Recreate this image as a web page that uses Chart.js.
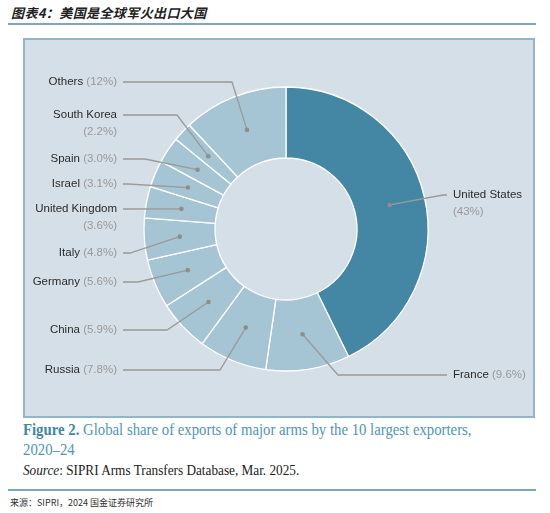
<!DOCTYPE html>
<html>
<head>
<meta charset="utf-8">
<script src="https://cdn.jsdelivr.net/npm/chart.js@4.4.1/dist/chart.umd.min.js"></script>
<style>
  html,body{margin:0;padding:0;background:#fff;width:550px;height:513px;overflow:hidden;}
  #title{position:absolute;left:11px;top:3px;font-family:"Noto Sans CJK SC";font-weight:bold;font-style:italic;font-size:13px;color:#222;letter-spacing:0.4px;}
  .rule{position:absolute;left:8px;width:528px;height:2px;background:#7ea5bd;}
  #panel{position:absolute;left:23px;top:38px;width:508px;height:376px;background:#d5dfe7;border:2px solid #92b5ca;}
  #cap{position:absolute;left:23px;top:420px;white-space:nowrap;font-family:"Liberation Serif";font-size:16.5px;line-height:20px;color:#4f95b8;transform:scaleX(0.895);transform-origin:0 0;}
  #cap b{color:#3f86aa;}
  #src{position:absolute;left:23px;top:463px;white-space:nowrap;font-family:"Liberation Serif";font-size:14px;color:#222;transform:scaleX(0.945);transform-origin:0 0;}
  #foot{position:absolute;left:10px;top:496px;font-family:"Noto Sans CJK SC";font-size:9px;color:#333;}
  #c{position:absolute;left:0;top:0;pointer-events:none;}
</style>
</head>
<body>
<div id="title">图表4：美国是全球军火出口大国</div>
<div class="rule" style="top:23px"></div>
<div id="panel"></div>
<div id="cap"><b>Figure 2.</b> Global share of exports of major arms by the 10 largest exporters,<br>2020–24</div>
<div id="src"><i>Source</i>: SIPRI Arms Transfers Database, Mar. 2025.</div>
<div class="rule" style="top:489px"></div>
<div id="foot">来源：SIPRI，2024 国金证券研究所</div>
<canvas id="c" width="550" height="513"></canvas>
<script>
const countries = ['United States','France','Russia','China','Germany','Italy','United Kingdom','Israel','Spain','South Korea','Others'];
const shares = [43, 9.6, 7.8, 5.9, 5.6, 4.8, 3.6, 3.1, 3.0, 2.2, 12];
const shareLabels = ['43%','9.6%','7.8%','5.9%','5.6%','4.8%','3.6%','3.1%','3.0%','2.2%','12%'];

// label layout (page pixels), separate from data
const labelLayout = [
  {side:'right', y:195, elbowX:443, twoLine:true},
  {side:'right', y:375, elbowX:338, twoLine:false},
  {side:'left',  y:370, elbowX:220, twoLine:false},
  {side:'left',  y:330, elbowX:167, twoLine:false},
  {side:'left',  y:282, elbowX:138, twoLine:false},
  {side:'left',  y:253, elbowX:130, twoLine:false},
  {side:'left',  y:209, elbowX:128, twoLine:true},
  {side:'left',  y:184, elbowX:128, twoLine:false},
  {side:'left',  y:159, elbowX:145, twoLine:false},
  {side:'left',  y:115, elbowX:177, twoLine:true},
  {side:'left',  y:82,  elbowX:232, twoLine:false}
];

const usColor = '#4387a4';
const lightColor = '#a5c4d4';

const leaderPlugin = {
  id: 'leaders',
  afterDatasetsDraw(chart) {
    const ctx = chart.ctx;
    const arcs = chart.getDatasetMeta(0).data;
    ctx.save();
    arcs.forEach((arc, i) => {
      const L = labelLayout[i];
      const p = arc.getCenterPoint();
      const endX = L.side === 'left' ? 123 : 447;
      ctx.strokeStyle = '#9b9b98';
      ctx.lineWidth = 1.3;
      ctx.beginPath();
      ctx.moveTo(p.x, p.y);
      ctx.lineTo(L.elbowX, L.y);
      ctx.lineTo(endX, L.y);
      ctx.stroke();
      ctx.fillStyle = '#8e8e8a';
      ctx.beginPath();
      ctx.arc(p.x, p.y, 2.3, 0, Math.PI * 2);
      ctx.fill();

      ctx.font = '11.5px "Liberation Sans", Arial, sans-serif';
      ctx.textBaseline = 'middle';
      const name = countries[i];
      const pct = '(' + shareLabels[i] + ')';
      if (L.side === 'left') {
        ctx.textAlign = 'right';
        const tx = 117;
        if (L.twoLine) {
          ctx.fillStyle = '#2b2b2b';
          ctx.fillText(name, tx, L.y);
          ctx.fillStyle = '#9a9a9a';
          ctx.fillText(pct, tx, L.y + 17);
        } else {
          ctx.fillStyle = '#9a9a9a';
          ctx.fillText(pct, tx, L.y);
          const w = ctx.measureText(pct + ' ').width;
          ctx.fillStyle = '#2b2b2b';
          ctx.fillText(name, tx - w, L.y);
        }
      } else {
        ctx.textAlign = 'left';
        const tx = 453;
        ctx.fillStyle = '#2b2b2b';
        ctx.fillText(name, tx, L.y);
        ctx.fillStyle = '#9a9a9a';
        if (L.twoLine) {
          ctx.fillText(pct, tx, L.y + 17);
        } else {
          const w = ctx.measureText(name + ' ').width;
          ctx.fillText(pct, tx + w, L.y);
        }
      }
    });
    ctx.restore();
  }
};

new Chart(document.getElementById('c'), {
  type: 'doughnut',
  data: {
    labels: countries,
    datasets: [{
      data: shares,
      backgroundColor: countries.map((c, i) => i === 0 ? usColor : lightColor),
      borderColor: '#ffffff',
      borderWidth: 1.3,
      radius: 142,
      hoverOffset: 0
    }]
  },
  options: {
    responsive: false,
    animation: false,
    cutout: '50%',
    events: [],
    layout: { padding: { left: 122, right: 100, top: 60, bottom: 115 } },
    plugins: { legend: { display: false }, tooltip: { enabled: false } }
  },
  plugins: [leaderPlugin]
});
</script>
</body>
</html>
